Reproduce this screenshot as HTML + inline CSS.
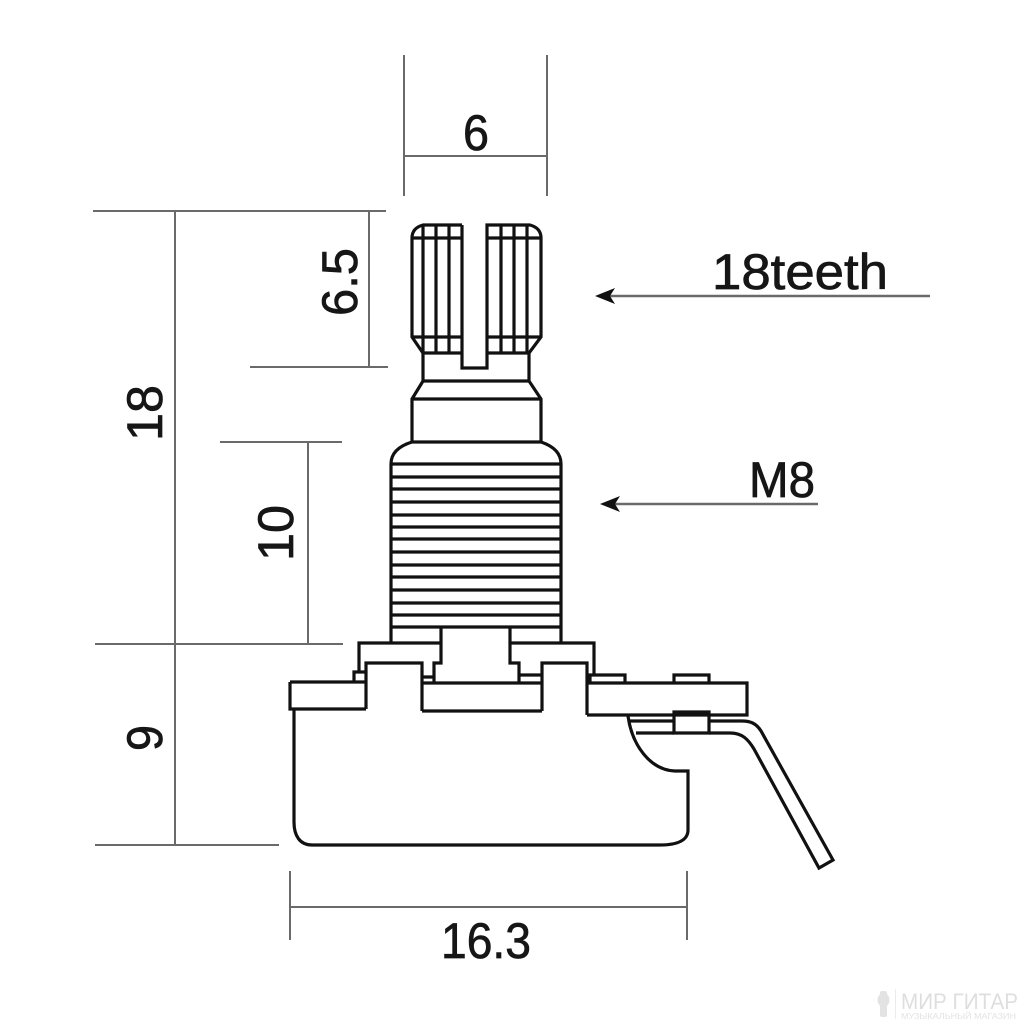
<!DOCTYPE html>
<html><head><meta charset="utf-8"><style>
html,body{margin:0;padding:0;background:#fff;width:1024px;height:1024px;overflow:hidden}
svg{display:block}
text{font-family:"Liberation Sans",sans-serif;fill:#161616}
.l text{stroke:#161616;stroke-width:.7px}
</style></head><body>
<svg width="1024" height="1024" viewBox="0 0 1024 1024" xmlns="http://www.w3.org/2000/svg">
<rect width="1024" height="1024" fill="#fff"/>
<!-- dimension lines -->
<g stroke="#6a6a6a" stroke-width="2" fill="none">
<path d="M404 55V196M547 55V196M404 156H547"/>
<path d="M93 211H386M175 211V845M95 644H343M95 845H279"/>
<path d="M369 211V367M250 367H388"/>
<path d="M220 442H342M308 442V644"/>
<path d="M290 871V940M687 871V940M290 907H687"/>
<path d="M608 296H930M612 504H818" stroke-width="2.4"/>
</g>
<path d="M595 296L615 288L610 296L615 304Z" fill="#111"/>
<path d="M600 504L620 496L615 504L620 512Z" fill="#111"/>
<!-- potentiometer -->
<g stroke="#111" stroke-width="3.2" fill="none" stroke-linejoin="miter">
<!-- knob -->
<path d="M462 225H423Q412 228 412 238V337L423 353H462M462 225V368H487V225H530Q541 228 541 238V337L529 353H487"/>
<path d="M412 238H462M487 238H541M412 337H462M487 337H541" />
<path d="M423 225V353M436 225V353M449 225V353M501 225V353M514 225V353M527 225V353"/>
<!-- neck -->
<path d="M423 353V381M529 353V381M423 381H529M423 381L412 399V442M529 381L541 399V442M412 399H541"/>
<!-- threaded body -->
<path d="M412 442H541M412 442C399 446 391 453 391 464V643M541 442C553 446 561 453 561 464V643"/>
<path d="M391 464H561M391 477H561M391 489H561M391 502H561M391 515H561M391 527H561M391 539H561M391 552H561M391 565H561M391 577H561M391 590H561M391 603H561M391 615H561M391 627H561"/>
<!-- washer and nut -->
<path d="M359 672V643H441M441 627V663H434V682M510 627V663H519V682M510 643H594V675"/>
<path d="M366 709V663H422V711M542 711V663H587V715"/>
<path d="M354 682V672H366M422 677H434M519 675H542"/>
<path d="M290 682H366M290 682V709H366M422 711H542M422 683H542"/>
<!-- right flange -->
<path d="M587 683H747V715H587M590 683V675H594M594 675H625V683M674 683V675H709V683"/>
<path d="M674 712H709V733H674Z"/>
<!-- can -->
<path d="M294 709V822C294 836 300 845 312 845H660C678 845 688 840 688 830V771H675C650 770 632 745 628 716"/>
<!-- lead -->
<path d="M630 721H674M709 721H742C750 721 756 723 761 731L833 860L819 868L754 749C748 739 742 733 730 733H709M674 733H636"/>
</g>
<!-- labels -->
<g font-size="50" class="l">
<text x="476" y="150" text-anchor="middle" textLength="26" lengthAdjust="spacingAndGlyphs">6</text>
<text x="486" y="958" text-anchor="middle" textLength="90" lengthAdjust="spacingAndGlyphs">16.3</text>
<text x="712" y="289" textLength="176" lengthAdjust="spacingAndGlyphs">18teeth</text>
<text x="749" y="497" textLength="66" lengthAdjust="spacingAndGlyphs">M8</text>
<text transform="translate(357,282) rotate(-90)" text-anchor="middle" textLength="68" lengthAdjust="spacingAndGlyphs">6.5</text>
<text transform="translate(162,413) rotate(-90)" text-anchor="middle" textLength="56" lengthAdjust="spacingAndGlyphs">18</text>
<text transform="translate(293,533) rotate(-90)" text-anchor="middle" textLength="56" lengthAdjust="spacingAndGlyphs">10</text>
<text transform="translate(162,738) rotate(-90)" text-anchor="middle" textLength="26" lengthAdjust="spacingAndGlyphs">9</text>
</g>
<!-- watermark -->
<g fill="#e3e3e3">
<rect x="880" y="991" width="7" height="26" rx="2"/>
<ellipse cx="883.500" cy="1000" rx="6" ry="7"/>
<rect x="895" y="989" width="1" height="30" fill="#ececec"/>
</g>
<text x="901" y="1009" font-size="22" style="fill:#dedede" textLength="117" lengthAdjust="spacingAndGlyphs">МИР ГИТАР</text>
<text x="901" y="1019" font-size="8" style="fill:#e3e3e3" textLength="115" lengthAdjust="spacingAndGlyphs">МУЗЫКАЛЬНЫЙ МАГАЗИН</text>
</svg>
</body></html>
